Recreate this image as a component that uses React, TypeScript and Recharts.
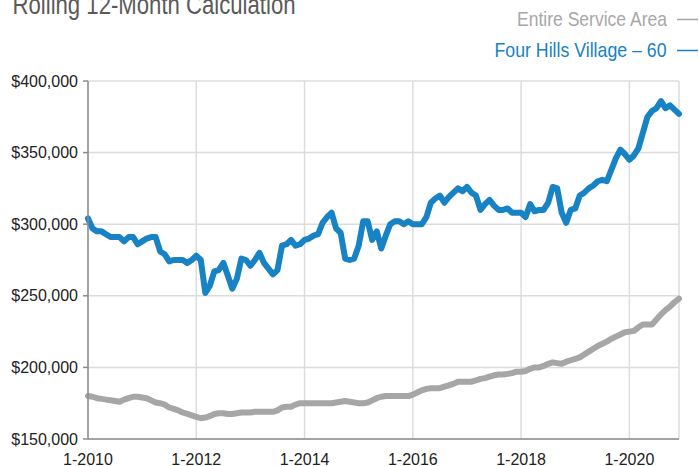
import { LineChart, Line, XAxis, YAxis, CartesianGrid } from 'recharts'

// monthly categories, Jan 2010 .. Dec 2020
const firstYear = 2010
const lastYear = 2020
const months: string[] = []
for (let y = firstYear; y <= lastYear; y++) {
  for (let m = 1; m <= 12; m++) months.push(`${m}-${y}`)
}

const xTicks = ['1-2010', '1-2012', '1-2014', '1-2016', '1-2018', '1-2020']
const yTicks = [150, 200, 250, 300, 350, 400] // thousands of dollars

// Four Hills Village – 60, rolling 12-month median price ($K)
const fourHills = [
  304, 297, 295, 295, 293, 291, 291, 291, 288, 291, 291, 286,
  288, 290, 291, 291, 281, 279, 274, 275, 275, 275, 273, 275,
  278, 275, 252, 257, 267, 268, 273, 264, 255, 262, 276, 275,
  271, 275, 280, 273, 269, 265, 268, 285, 286, 289, 285, 286,
  289, 290, 292, 293, 301, 305, 308, 297, 294, 276, 275, 276,
  285, 302, 302, 289, 295, 283, 292, 300, 302, 302, 300, 302,
  300, 300, 300, 305, 315, 318, 320, 315, 319, 322, 325, 323,
  326, 322, 320, 310, 314, 317, 313, 310, 310, 311, 308, 308,
  308, 305, 314, 309, 310, 310, 315, 326, 325, 308, 301, 310,
  311, 320, 322, 325, 327, 330, 331, 330, 338, 346, 352, 349,
  345, 348, 353, 364, 375, 379, 381, 386, 381, 383, 380, 377,
]

// Entire Service Area ($K)
const serviceArea = [
  180, 179.5, 178.5, 178, 177.5, 177, 176.5, 176, 177.5, 178.5, 179.5, 179.5,
  179, 178.5, 177, 175.5, 175, 174, 172, 171, 170, 168.5, 167.5, 166.5,
  165.5, 164.5, 165, 166, 167.5, 168, 168, 167.5, 167.5, 168, 168.5, 168.5,
  168.5, 169, 169, 169, 169, 169, 170, 172, 172.5, 172.5, 174, 175,
  175, 175, 175, 175, 175, 175, 175, 175.5, 176, 176.5, 176, 175.5,
  175, 175, 175.5, 177, 178.5, 179.5, 180, 180, 180, 180, 180, 180,
  181, 182.5, 184, 185, 185.5, 185.5, 185.5, 186.5, 187.5, 188.5, 190, 190,
  190, 190, 191, 192, 192.5, 193.5, 194.5, 195, 195, 195.5, 196, 197,
  197, 197.5, 199, 200, 200, 201, 202.5, 203.5, 203, 202.5, 204, 205,
  206, 207, 209, 211, 213, 215, 216.5, 218, 220, 221.5, 223, 224.5,
  225, 225.5, 228, 230, 230, 230, 233.5, 237, 240, 242.5, 245.5, 248,
]

const data = months.map((month, i) => ({
  month,
  fourHills: fourHills[i],
  serviceArea: serviceArea[i],
}))

const BLUE = '#1782c4'
const GRAY = '#a6a6a6'
const AXIS = '#8c8c8c'
const GRID = '#dcdcdc'
const sans = '"Liberation Sans", Arial, Helvetica, sans-serif'

const fmtDollars = (v: number) => `$${v},000`

export default function App() {
  return (
    <div style={{ position: 'absolute', left: 0, top: 0, width: 699, height: 466, background: '#fff', overflow: 'hidden' }}>
      <LineChart width={699} height={466} data={data} margin={{ top: 81, right: 20, bottom: 0, left: 0 }}>
        <CartesianGrid stroke={GRID} strokeWidth={1.5} yAxisId="left" />
        <XAxis
          dataKey="month"
          scale="point"
          ticks={xTicks}
          interval={0}
          height={27}
          tickLine={false}
          tickSize={0}
          tickMargin={15}
          axisLine={{ stroke: AXIS, strokeWidth: 1.5 }}
          tick={{ fontSize: 16, fill: '#222', fontFamily: sans }}
        />
        <YAxis
          yAxisId="left"
          domain={[150, 400]}
          ticks={yTicks}
          width={88}
          tickSize={5}
          tickMargin={5}
          tickFormatter={fmtDollars}
          axisLine={{ stroke: AXIS, strokeWidth: 1.5 }}
          tickLine={{ stroke: AXIS, strokeWidth: 1.5 }}
          tick={{ fontSize: 16, fill: '#222', fontFamily: sans }}
          allowDataOverflow
        />
        <YAxis
          yAxisId="right"
          orientation="right"
          domain={[150, 400]}
          ticks={yTicks}
          width={0}
          tick={false}
          tickLine={false}
          axisLine={{ stroke: AXIS, strokeWidth: 1.5 }}
        />
        <Line
          yAxisId="left"
          type="linear"
          dataKey="serviceArea"
          name="Entire Service Area"
          stroke={GRAY}
          strokeWidth={6}
          strokeLinejoin="round"
          strokeLinecap="round"
          dot={false}
          isAnimationActive={false}
        />
        <Line
          yAxisId="left"
          type="linear"
          dataKey="fourHills"
          name="Four Hills Village – 60"
          stroke={BLUE}
          strokeWidth={6}
          strokeLinejoin="round"
          strokeLinecap="round"
          dot={false}
          isAnimationActive={false}
        />
      </LineChart>
      <svg width={699} height={466} style={{ position: 'absolute', left: 0, top: 0, pointerEvents: 'none' }}>
        <text x={12.5} y={13.5} fontSize={27} fill="#5a5a5a" fontFamily={sans} textLength={283} lengthAdjust="spacingAndGlyphs">
          Rolling 12-Month Calculation
        </text>
        <text x={517} y={26} fontSize={21} fill="#a8a8a8" fontFamily={sans} textLength={150} lengthAdjust="spacingAndGlyphs">
          Entire Service Area
        </text>
        <line x1={677} x2={698} y1={19.5} y2={19.5} stroke={GRAY} strokeWidth={1.5} />
        <text x={494.5} y={56.5} fontSize={21} fill={BLUE} fontFamily={sans} textLength={172} lengthAdjust="spacingAndGlyphs">
          Four Hills Village – 60
        </text>
        <line x1={677} x2={698} y1={50.5} y2={50.5} stroke={BLUE} strokeWidth={1.5} />
      </svg>
    </div>
  )
}
